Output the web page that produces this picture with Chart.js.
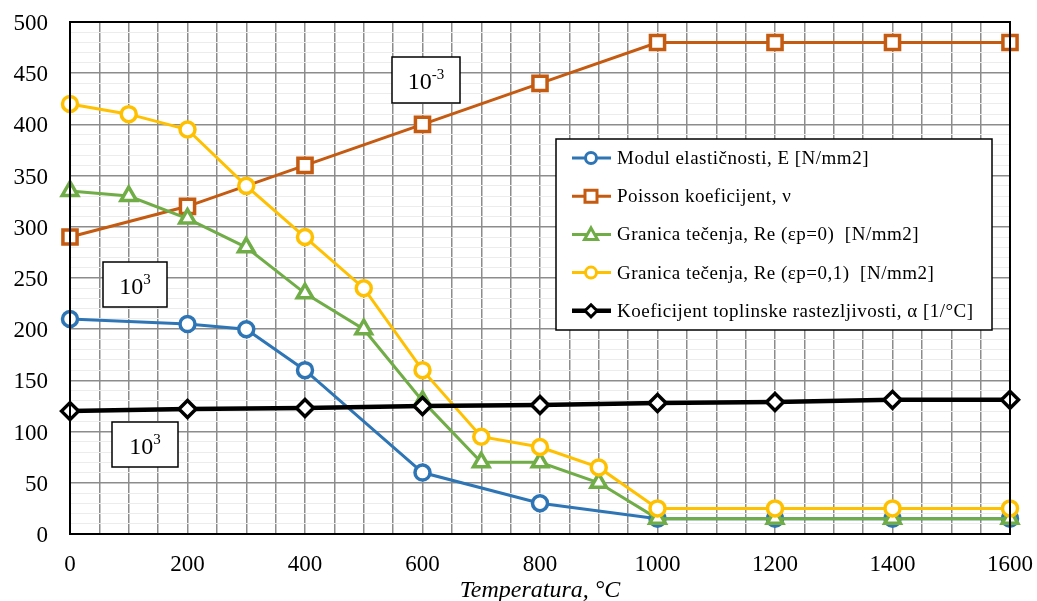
<!DOCTYPE html>
<html>
<head>
<meta charset="utf-8">
<script src="https://cdn.jsdelivr.net/npm/chart.js@4/dist/chart.umd.min.js"></script>
<style>
  body { margin: 0; background: #fff; }
  #wrap { width: 1037px; height: 601px; }
</style>
</head>
<body>
<div id="wrap"><canvas id="chart" width="1037" height="601"></canvas></div>
<script>
// temperatures (°C) per series
const tempE = [0, 200, 300, 400, 600, 800, 1000, 1200, 1400, 1600];
const valE = [210, 205, 200, 160, 60, 30, 15, 15, 15, 15];

const tempNu = [0, 200, 400, 600, 800, 1000, 1200, 1400, 1600];
const valNu = [290, 320, 360, 400, 440, 480, 480, 480, 480];

const tempRe = [0, 100, 200, 300, 400, 500, 600, 700, 800, 900, 1000, 1200, 1400, 1600];
const valRe0 = [335, 330, 308, 280, 235, 200, 130, 70, 70, 50, 15, 15, 15, 15];
const valRe01 = [420, 410, 395, 340, 290, 240, 160, 95, 85, 65, 25, 25, 25, 25];

const tempAlpha = [0, 200, 400, 600, 800, 1000, 1200, 1400, 1600];
const valAlpha = [120, 122, 123, 125, 126, 128, 129, 131, 131];

const seriesNames = [
    'Modul elastičnosti, E [N/mm2]',
    'Poisson koeficijent, ν',
    'Granica tečenja, Re (εp=0)  [N/mm2]',
    'Granica tečenja, Re (εp=0,1)  [N/mm2]',
    'Koeficijent toplinske rastezljivosti, α [1/°C]'
];
const xLabels = [0, 200, 400, 600, 800, 1000, 1200, 1400, 1600];
const yLabels = [0, 50, 100, 150, 200, 250, 300, 350, 400, 450, 500];

const FONT = '"Liberation Serif", "Times New Roman", serif';
const colors = ['#2E75B6', '#C55A11', '#70AD47', '#FFC000', '#000000'];
const styles = ['circle', 'rect', 'triangle', 'circle', 'rectRot'];
const radii = { circle: 7.5, rect: 10, triangle: 9, rectRot: 8.5 };

function pts(xs, ys) {
    return xs.map((x, i) => ({ x: x, y: ys[i] }));
}

function makeSet(i, data, order) {
    const black = i === 4;
    return {
        label: seriesNames[i],
        data: data,
        borderColor: colors[i],
        backgroundColor: '#fff',
        pointBorderColor: colors[i],
        pointBackgroundColor: '#fff',
        pointStyle: styles[i],
        pointRadius: radii[styles[i]],
        pointBorderWidth: 3.5,
        borderWidth: black ? 4.5 : 3,
        tension: 0,
        fill: false,
        clip: false,
        order: order
    };
}

// custom legend + unit boxes
const extras = {
    id: 'extras',
    afterDraw(chart) {
        const ctx = chart.ctx;
        const a = chart.chartArea;
        ctx.save();
        // plot border
        ctx.strokeStyle = '#000';
        ctx.lineWidth = 2;
        ctx.strokeRect(a.left, a.top, a.right - a.left, a.bottom - a.top);

        // unit boxes
        function unitBox(x, y, w, h, exp) {
            ctx.fillStyle = '#fff';
            ctx.fillRect(x, y, w, h);
            ctx.strokeStyle = '#000';
            ctx.lineWidth = 1.5;
            ctx.strokeRect(x, y, w, h);
            ctx.fillStyle = '#000';
            ctx.textBaseline = 'alphabetic';
            ctx.textAlign = 'left';
            ctx.font = '24px ' + FONT;
            const bw = ctx.measureText('10').width;
            ctx.font = '15px ' + FONT;
            const ew = ctx.measureText(exp).width;
            const tx = x + (w - bw - ew) / 2;
            const ty = y + h / 2 + 9;
            ctx.font = '24px ' + FONT;
            ctx.fillText('10', tx, ty);
            ctx.font = '15px ' + FONT;
            ctx.fillText(exp, tx + bw, ty - 10);
        }
        unitBox(392, 57, 68, 46, '-3');
        unitBox(103, 262, 64, 45, '3');
        unitBox(112, 422, 66, 45, '3');

        // legend
        const lx = 556, ly = 139, lw = 436, lh = 191;
        ctx.fillStyle = '#fff';
        ctx.fillRect(lx, ly, lw, lh);
        ctx.strokeStyle = '#000';
        ctx.lineWidth = 1.5;
        ctx.strokeRect(lx, ly, lw, lh);
        chart.data.datasets.forEach((ds, i) => {
            const y = 158 + i * 38.2;
            ctx.strokeStyle = ds.borderColor;
            ctx.lineWidth = ds.borderWidth;
            ctx.beginPath();
            ctx.moveTo(572, y);
            ctx.lineTo(611, y);
            ctx.stroke();
            ctx.fillStyle = '#fff';
            ctx.strokeStyle = ds.borderColor;
            ctx.lineWidth = 3;
            ctx.beginPath();
            if (ds.pointStyle === 'circle') {
                ctx.arc(591, y, 5.5, 0, Math.PI * 2);
            } else if (ds.pointStyle === 'rect') {
                ctx.rect(585, y - 6, 12, 12);
            } else if (ds.pointStyle === 'triangle') {
                ctx.moveTo(591, y - 6.5);
                ctx.lineTo(597.5, y + 5);
                ctx.lineTo(584.5, y + 5);
                ctx.closePath();
            } else {
                ctx.moveTo(591, y - 6);
                ctx.lineTo(597, y);
                ctx.lineTo(591, y + 6);
                ctx.lineTo(585, y);
                ctx.closePath();
            }
            ctx.fill();
            ctx.stroke();
            ctx.fillStyle = '#000';
            ctx.font = '19px ' + FONT;
            ctx.letterSpacing = '0.5px';
            ctx.textAlign = 'left';
            ctx.textBaseline = 'middle';
            ctx.fillText(ds.label, 617, y + 1);
            ctx.letterSpacing = '0px';
        });
        ctx.restore();
    }
};

new Chart(document.getElementById('chart').getContext('2d'), {
    type: 'line',
    data: {
        datasets: [
            makeSet(0, pts(tempE, valE), 4),
            makeSet(1, pts(tempNu, valNu), 3),
            makeSet(2, pts(tempRe, valRe0), 2),
            makeSet(3, pts(tempRe, valRe01), 1),
            makeSet(4, pts(tempAlpha, valAlpha), 0)
        ]
    },
    options: {
        responsive: false,
        devicePixelRatio: 1,
        animation: false,
        layout: { padding: { top: 22, right: 27, bottom: 0, left: 0 } },
        plugins: {
            legend: { display: false },
            tooltip: { enabled: false }
        },
        scales: {
            x: {
                type: 'linear',
                min: 0,
                max: 1600,
                afterFit: s => {
                    s.height = 67;
                    s.paddingLeft = 0;
                    s.paddingRight = 0;
                },
                afterBuildTicks: s => {
                    const t = [];
                    for (let v = 0; v <= 1600; v += 50) t.push({ value: v });
                    s.ticks = t;
                },
                ticks: {
                    autoSkip: false,
                    maxRotation: 0,
                    padding: 17,
                    color: '#000',
                    font: { family: FONT, size: 23 },
                    callback: v => xLabels.includes(v) ? String(v) : ''
                },
                grid: { color: '#8c8c8c', lineWidth: 1.5, drawTicks: false },
                border: { color: '#000', width: 2 },
                title: {
                    display: true,
                    text: 'Temperatura, °C',
                    color: '#000',
                    padding: { top: 0, bottom: -2 },
                    font: { family: FONT, size: 24, style: 'italic', lineHeight: 1 }
                }
            },
            y: {
                min: 0,
                max: 500,
                afterFit: s => {
                    s.width = 70;
                    s.paddingTop = 0;
                    s.paddingBottom = 0;
                },
                afterBuildTicks: s => {
                    const t = [];
                    for (let v = 0; v <= 500; v += 10) t.push({ value: v });
                    s.ticks = t;
                },
                ticks: {
                    autoSkip: false,
                    padding: 22,
                    labelOffset: 2,
                    color: '#000',
                    font: { family: FONT, size: 23 },
                    callback: v => yLabels.includes(v) ? String(v) : ''
                },
                grid: {
                    drawTicks: false,
                    color: c => (c.tick && c.tick.value % 50 === 0) ? '#8c8c8c' : '#ececec',
                    lineWidth: c => (c.tick && c.tick.value % 50 === 0) ? 1.5 : 1
                },
                border: { color: '#000', width: 2 }
            }
        }
    },
    plugins: [extras]
});
</script>
</body>
</html>
